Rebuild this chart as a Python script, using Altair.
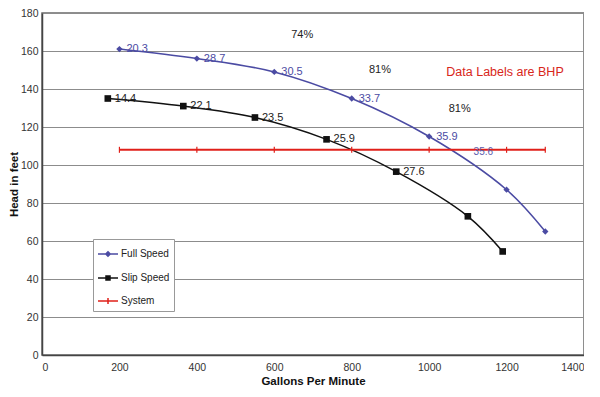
import altair as alt
import pandas as pd

# ---- data ----
full_gpm = [200, 400, 600, 800, 1000, 1200, 1300]
full_head = [161, 156, 149, 135, 115, 87, 65]
full_bhp = ["20.3", "28.7", "30.5", "33.7", "35.9", "", ""]

slip_gpm = [170, 365, 550, 735, 915, 1100, 1190]
slip_head = [135, 131, 125, 113.5, 96.5, 73, 54.5]
slip_bhp = ["14.4", "22.1", "23.5", "25.9", "27.6", "", ""]

sys_gpm = [200, 400, 600, 800, 1000, 1200, 1300]
sys_head = [108, 108, 108, 108, 108, 108, 108]

note_text = ["74%", "81%", "81%", "Data Labels are BHP", "35.6"]
note_x = [672, 873, 1079, 1196, 1140]
note_y = [168.5, 150, 129.5, 149, 107]
note_kind = ["pct", "pct", "pct", "red", "blue"]

series_names = ["Full Speed", "Slip Speed", "System"]
series_colors = ["#4b4ba3", "#111111", "#e0201a"]
series_widths = [1.5, 1.5, 2]
legend_shapes = [
    "M-1,0L1,0M0,-0.22L0.22,0L0,0.22L-0.22,0Z",
    "M-1,0L1,0M-0.2,-0.2L0.2,-0.2L0.2,0.2L-0.2,0.2Z",
    "M-1,0L1,0M0,-0.3L0,0.3",
]

rows = []
for s, xs, ys, ls in [
    ("Full Speed", full_gpm, full_head, full_bhp),
    ("Slip Speed", slip_gpm, slip_head, slip_bhp),
    ("System", sys_gpm, sys_head, [""] * len(sys_gpm)),
]:
    for i, (a, b, c) in enumerate(zip(xs, ys, ls)):
        rows.append({"series": s, "gpm": a, "head": b, "label": c, "order": i})
df = pd.DataFrame(rows)
notes = pd.DataFrame({"text": note_text, "gpm": note_x, "head": note_y, "kind": note_kind})

FONT = "Liberation Sans"

x_enc = alt.X(
    "gpm:Q",
    scale=alt.Scale(domain=[0, 1400], nice=False),
    axis=alt.Axis(values=list(range(0, 1401, 200)), format="d",
                  title="Gallons Per Minute", grid=False),
)
y_enc = alt.Y(
    "head:Q",
    scale=alt.Scale(domain=[0, 180], nice=False),
    axis=alt.Axis(values=list(range(0, 181, 20)), format="d",
                  title="Head in feet", grid=True),
)

base = alt.Chart(df).encode(x=x_enc, y=y_enc)


def only(name):
    return base.transform_filter(alt.datum.series == name)


layers = []
for name, col, w in zip(series_names, series_colors, series_widths):
    layers.append(
        only(name).mark_line(interpolate="catmull-rom", strokeWidth=w, color=col).encode(
            order="order:Q"
        )
    )

layers.append(only("System").mark_point(
    shape="M0,-1L0,1", filled=False, size=36, opacity=1, strokeWidth=1.2, color=series_colors[2]
))
layers.append(only("Full Speed").mark_point(
    shape="diamond", filled=True, size=40, opacity=1, color=series_colors[0]
))
layers.append(only("Slip Speed").mark_point(
    shape="square", filled=True, size=44, opacity=1, color=series_colors[1]
))

for name, col in zip(series_names[:2], ["#4b4ba3", "#222222"]):
    layers.append(
        only(name).transform_filter(alt.datum.label != "").mark_text(
            align="left", baseline="middle", dx=7, fontSize=11, font=FONT, color=col
        ).encode(text="label:N")
    )

note_base = alt.Chart(notes).encode(x=x_enc, y=y_enc, text="text:N")
layers.append(note_base.transform_filter(alt.datum.kind == "pct").mark_text(
    fontSize=11, font=FONT, color="#222222"))
layers.append(note_base.transform_filter(alt.datum.kind == "red").mark_text(
    fontSize=12.5, font=FONT, color="#d8261a"))
layers.append(note_base.transform_filter(alt.datum.kind == "blue").mark_text(
    fontSize=10, font=FONT, color="#5a5aad"))

legend_layer = base.mark_point(filled=True, opacity=0, strokeWidth=1.5).encode(
    color=alt.Color("series:N", scale=alt.Scale(domain=series_names, range=series_colors),
                    legend=alt.Legend(title=None)),
    stroke=alt.Stroke("series:N", scale=alt.Scale(domain=series_names, range=series_colors),
                      legend=alt.Legend(title=None)),
    shape=alt.Shape("series:N", scale=alt.Scale(domain=series_names, range=legend_shapes),
                    legend=alt.Legend(title=None)),
)
layers.append(legend_layer)

chart = alt.layer(*layers).properties(
    width=542, height=342, padding={"left": 0, "top": 0, "right": 0, "bottom": 0}
).configure_view(
    stroke="#6a6a6a", strokeWidth=1.5
).configure_axis(
    labelFont=FONT, titleFont=FONT, labelFontSize=10.5, labelColor="#333333",
    titleFontSize=11.5, titleFontWeight="bold", titleColor="#111111",
    domainColor="#444444", domainWidth=1.5, ticks=False,
    gridColor="#8c8c8c", gridWidth=1,
).configure_axisX(
    labelPadding=7, titlePadding=3,
).configure_axisY(
    labelPadding=4, titlePadding=1,
).configure_legend(
    orient="none", legendX=51, legendY=226,
    padding=4, fillColor="white", strokeColor="#999999", strokeWidth=1,
    symbolSize=400, symbolStrokeWidth=1.5, symbolOpacity=1,
    labelFont=FONT, labelFontSize=10, labelColor="#222222", labelOffset=2,
    rowPadding=7, titlePadding=0,
)

chart.save("out.html", embed_options={"renderer": "svg", "actions": False})
